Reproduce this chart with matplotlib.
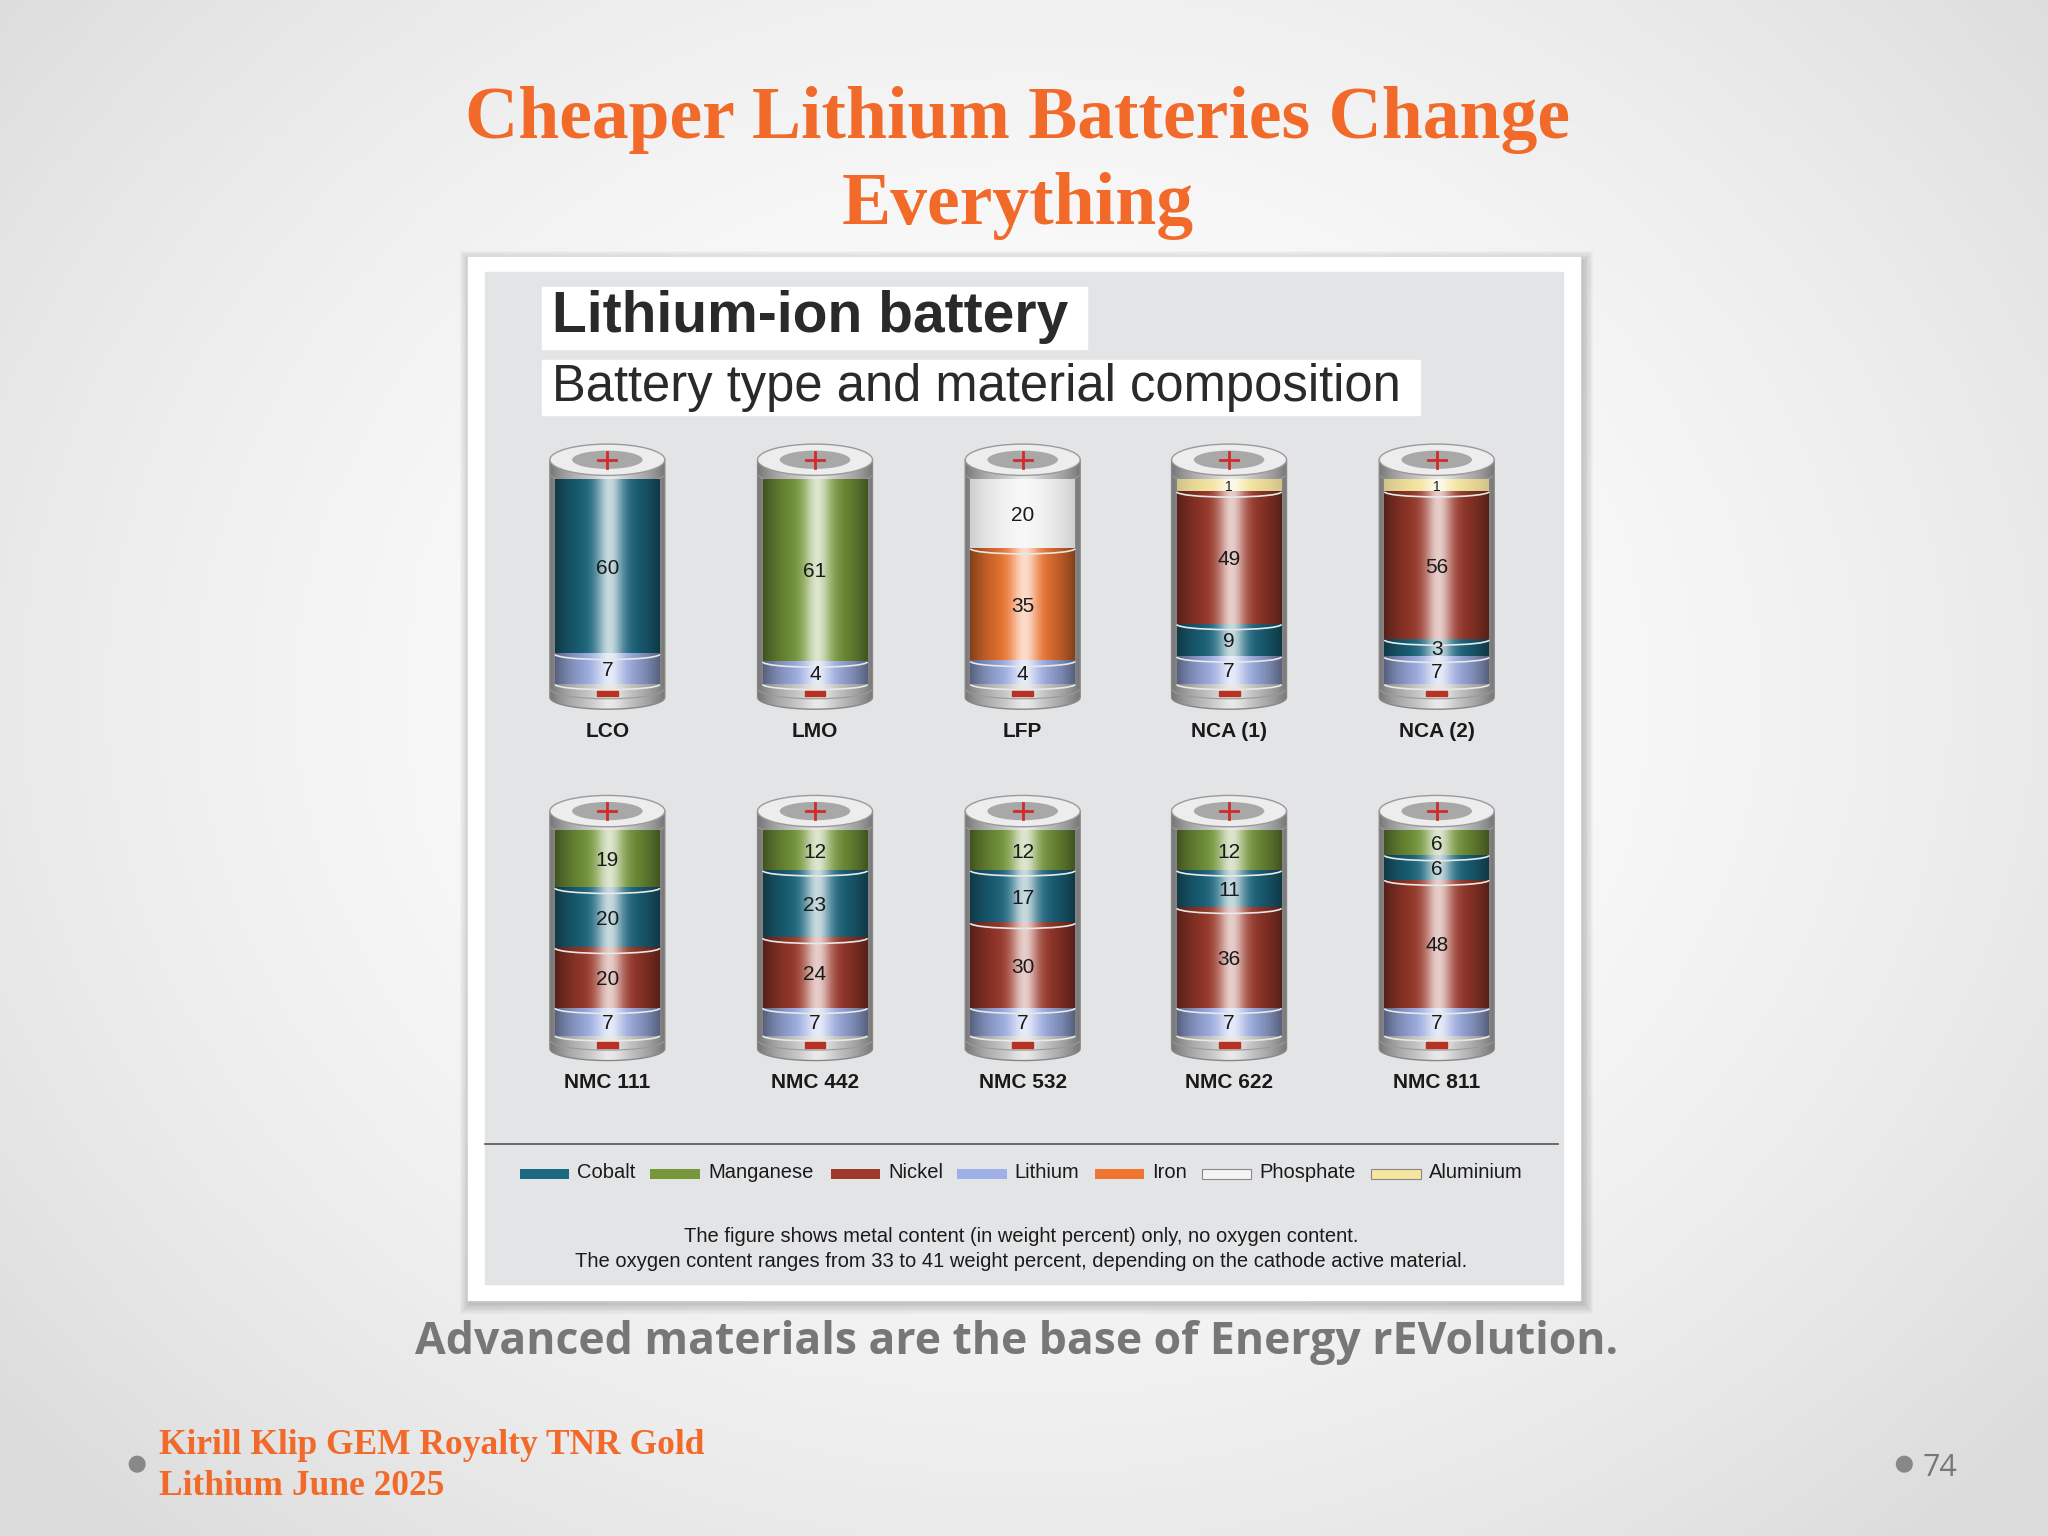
import numpy as np
import matplotlib
matplotlib.use("Agg")
import matplotlib.pyplot as plt
from matplotlib.patches import Rectangle, Ellipse, Arc, Path, PathPatch

# ---------------- data ----------------
row1_names = ["LCO", "LMO", "LFP", "NCA (1)", "NCA (2)"]
row2_names = ["NMC 111", "NMC 442", "NMC 532", "NMC 622", "NMC 811"]
materials = ["Cobalt", "Manganese", "Nickel", "Lithium", "Iron", "Phosphate", "Aluminium"]
mat_colors = ["#1C6880", "#76983A", "#9E3A2C", "#9FB0E6", "#F07530", "#F4F4F4", "#F6E6A0"]
# composition, top to bottom
LCO = [("Cobalt", 60), ("Lithium", 7)]
LMO = [("Manganese", 61), ("Lithium", 4)]
LFP = [("Phosphate", 20), ("Iron", 35), ("Lithium", 4)]
NCA1 = [("Aluminium", 1), ("Nickel", 49), ("Cobalt", 9), ("Lithium", 7)]
NCA2 = [("Aluminium", 1), ("Nickel", 56), ("Cobalt", 3), ("Lithium", 7)]
NMC111 = [("Manganese", 19), ("Cobalt", 20), ("Nickel", 20), ("Lithium", 7)]
NMC442 = [("Manganese", 12), ("Cobalt", 23), ("Nickel", 24), ("Lithium", 7)]
NMC532 = [("Manganese", 12), ("Cobalt", 17), ("Nickel", 30), ("Lithium", 7)]
NMC622 = [("Manganese", 12), ("Cobalt", 11), ("Nickel", 36), ("Lithium", 7)]
NMC811 = [("Manganese", 6), ("Cobalt", 6), ("Nickel", 48), ("Lithium", 7)]
row1_data = [LCO, LMO, LFP, NCA1, NCA2]
row2_data = [NMC111, NMC442, NMC532, NMC622, NMC811]

cmap = dict(zip(materials, mat_colors))
ORANGE = "#F26A2A"

fig = plt.figure(figsize=(20.48, 15.36), dpi=100)
ax = fig.add_axes([0, 0, 1, 1])
W, H = 1568, 1176
ax.set_xlim(0, W)
ax.set_ylim(H, 0)
ax.axis("off")

# background
yy, xx = np.mgrid[0:200, 0:260]
r = np.sqrt(((xx - 130) / 150.0) ** 2 + ((yy - 90) / 130.0) ** 2)
bg = np.clip(1 - 0.11 * r ** 1.8, 0.86, 1.0)
ax.imshow(np.dstack([bg, bg, bg]), extent=[0, W, H, 0], aspect="auto", zorder=0)

# titles
ax.text(779, 92, "Cheaper Lithium Batteries Change", ha="center", va="center",
        fontsize=53, fontweight="bold", family="Liberation Serif", color=ORANGE, zorder=5)
ax.text(779, 158, "Everything", ha="center", va="center",
        fontsize=53, fontweight="bold", family="Liberation Serif", color=ORANGE, zorder=5)

# panel with soft shadow
for k in range(8, 0, -1):
    ax.add_patch(Rectangle((358 - k + 2, 197 - k + 3), 852 + 2 * k, 798 + 2 * k,
                           color="#000000", alpha=0.025, zorder=1, lw=0))
ax.add_patch(Rectangle((358, 197), 852, 798, color="white", zorder=2))
ax.add_patch(Rectangle((371, 208), 826, 775, color="#E3E4E6", zorder=2))

ax.add_patch(Rectangle((415, 220), 417, 47, color="white", zorder=3))
ax.text(423, 243, "Lithium-ion battery", ha="left", va="center", fontsize=41,
        fontweight="bold", family="Liberation Sans", color="#2a2a2a", zorder=4)
ax.add_patch(Rectangle((415, 276), 672, 42, color="white", zorder=3))
ax.text(423, 297, "Battery type and material composition", ha="left", va="center",
        fontsize=36.5, family="Liberation Sans", color="#2a2a2a", zorder=4)


def shade(color, n=80, white=0.8, dark=0.55):
    c = np.array(matplotlib.colors.to_rgb(color))
    x = np.linspace(0, 1, n)
    hl = np.exp(-((x - 0.52) / 0.13) ** 2) * white
    edge = 1 - (1 - dark) * np.abs(2 * x - 1) ** 2.2
    col = c[None, :] * edge[:, None]
    col = col * (1 - hl[:, None]) + hl[:, None]
    return np.clip(col, 0, 1)[None, :, :]


def battery(cx, ytop, comp, name):
    hw = 44
    ybot = ytop + 182
    verts = [(cx - hw, ytop), (cx + hw, ytop), (cx + hw, ybot)]
    codes = [Path.MOVETO, Path.LINETO, Path.LINETO]
    th = np.linspace(0, np.pi, 30)
    for t in th:
        verts.append((cx + hw * np.cos(t), ybot + 9 * np.sin(t)))
        codes.append(Path.LINETO)
    verts.append((cx - hw, ytop)); codes.append(Path.CLOSEPOLY)
    bp = PathPatch(Path(verts, codes), facecolor="none", edgecolor="#888888", lw=1, zorder=5)
    ax.add_patch(bp)
    im = ax.imshow(shade("#C8C8C8", white=0.6, dark=0.6), extent=[cx - hw, cx + hw, ybot + 10, ytop],
                   aspect="auto", zorder=4)
    im.set_clip_path(bp)
    ax.add_patch(Arc((cx, ybot - 6), 2 * hw - 2, 14, theta1=0, theta2=180,
                     edgecolor="#9a9a9a", lw=0.8, zorder=6))
    # top cap
    ax.add_patch(Ellipse((cx, ytop), 2 * hw, 24, facecolor="#EDEDED", edgecolor="#9a9a9a", lw=1, zorder=7))
    ax.add_patch(Ellipse((cx, ytop), 2 * hw - 34, 14, facecolor="#A8A8A8", edgecolor="none", zorder=7))
    ax.plot([cx - 7, cx + 7], [ytop, ytop], color="#D12B2B", lw=2, zorder=8)
    ax.plot([cx, cx], [ytop - 6, ytop + 6], color="#D12B2B", lw=2, zorder=8)
    ax.add_patch(Arc((cx, ytop + 12), 2 * hw - 2, 12, theta1=0, theta2=180,
                     edgecolor="#9a9a9a", lw=0.8, zorder=6))
    # segments
    s0, s1 = ytop + 15, ybot - 10
    vals = np.array([v for _, v in comp], float)
    hts = vals + 4
    hts = hts / hts.sum() * (s1 - s0)
    y = s0
    sw = hw - 4
    for (m, v), h in zip(comp, hts):
        ax.imshow(shade(cmap[m], white=0.75 if m != "Phosphate" else 0.3,
                        dark=0.55 if m not in ("Phosphate", "Aluminium") else 0.85),
                  extent=[cx - sw, cx + sw, y + h, y], aspect="auto", zorder=6)
        ax.add_patch(Arc((cx, y + h), 2 * sw, 8, theta1=0, theta2=180,
                         edgecolor="#E8E8E8", lw=1.2, zorder=7))
        fs = 15 if h > 12 else 10
        ax.text(cx, y + h / 2 + 1, str(v), ha="center", va="center", fontsize=fs,
                family="Liberation Sans", color="#1a1a1a", zorder=9)
        y += h
    ax.add_patch(Rectangle((cx - 8, ybot - 5), 16, 4, color="#B83224", zorder=9))
    ax.text(cx, ybot + 26, name, ha="center", va="center", fontsize=15, fontweight="bold",
            family="Liberation Sans", color="#1a1a1a", zorder=9)


xs = [465, 624, 783, 941, 1100]
for cx, comp, nm in zip(xs, row1_data, row1_names):
    battery(cx, 352, comp, nm)
for cx, comp, nm in zip(xs, row2_data, row2_names):
    battery(cx, 621, comp, nm)

# legend
ax.plot([371, 1193], [876, 876], color="#555555", lw=1.2, zorder=5)
leg_x = [398, 498, 636, 733, 838, 920, 1050]
for lx, m in zip(leg_x, materials):
    ec = "#888888" if m in ("Phosphate", "Aluminium") else "none"
    ax.add_patch(Rectangle((lx, 895), 38, 8, facecolor=cmap[m], edgecolor=ec, lw=0.8, zorder=6))
    ax.text(lx + 44, 898, m, ha="left", va="center", fontsize=14.5, family="Liberation Sans",
            color="#1a1a1a", zorder=6)
ax.text(782, 947, "The figure shows metal content (in weight percent) only, no oxygen content.",
        ha="center", va="center", fontsize=14.5, family="Liberation Sans", color="#1a1a1a", zorder=6)
ax.text(782, 966, "The oxygen content ranges from 33 to 41 weight percent, depending on the cathode active material.",
        ha="center", va="center", fontsize=14.5, family="Liberation Sans", color="#1a1a1a", zorder=6)

ax.text(778, 1028, "Advanced materials are the base of Energy rEVolution.", ha="center", va="center",
        fontsize=32, fontweight="bold", family="Open Sans", color="#777777", zorder=6)

ax.add_patch(Ellipse((105, 1121), 12, 12, color="#888888", zorder=6))
ax.text(122, 1107, "Kirill Klip GEM Royalty TNR Gold", ha="left", va="center", fontsize=25.5,
        fontweight="bold", family="Liberation Serif", color=ORANGE, zorder=6)
ax.text(122, 1138, "Lithium June 2025", ha="left", va="center", fontsize=25.5,
        fontweight="bold", family="Liberation Serif", color=ORANGE, zorder=6)
ax.add_patch(Ellipse((1458, 1121), 12, 12, color="#888888", zorder=6))
ax.text(1472, 1124, "74", ha="left", va="center", fontsize=22, family="Open Sans",
        color="#777777", zorder=6)

fig.savefig("out.png", dpi=100)
